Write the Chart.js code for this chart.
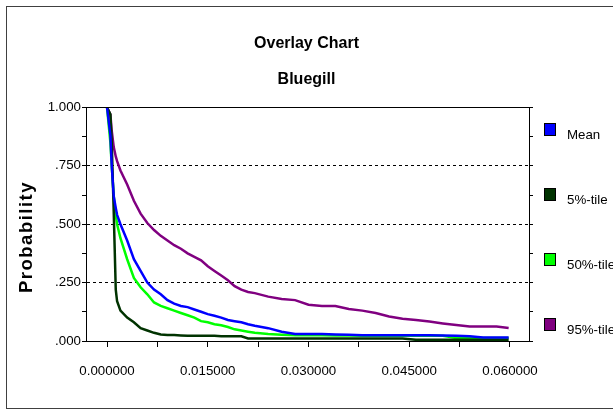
<!DOCTYPE html>
<html>
<head>
<meta charset="utf-8">
<script src="https://cdn.jsdelivr.net/npm/chart.js@4.4.1/dist/chart.umd.min.js"></script>
<style>
  html, body { margin: 0; padding: 0; background: #fff; }
  #wrap { width: 613px; height: 415px; }
</style>
</head>
<body>
<div id="wrap"><canvas id="overlay-chart" width="613" height="415"></canvas></div>
<script>
// x positions of the sampled points (shared by all curves)
const xValues = [0, 0.0005, 0.0007, 0.001, 0.0013, 0.0015, 0.002, 0.003, 0.004, 0.005,
    0.006, 0.007, 0.008, 0.009, 0.010, 0.011, 0.012, 0.013, 0.014, 0.015,
    0.016, 0.017, 0.018, 0.019, 0.020, 0.021, 0.022, 0.024, 0.026, 0.028,
    0.030, 0.032, 0.034, 0.036, 0.038, 0.040, 0.042, 0.044, 0.046, 0.048,
    0.050, 0.052, 0.054, 0.056, 0.058, 0.0598];

const meanValues = [1.0, 0.88, 0.75, 0.62, 0.57, 0.54, 0.50, 0.43, 0.35, 0.30,
    0.25, 0.22, 0.20, 0.175, 0.16, 0.15, 0.145, 0.135, 0.125, 0.115,
    0.108, 0.10, 0.09, 0.085, 0.08, 0.072, 0.065, 0.055, 0.04, 0.03,
    0.03, 0.03, 0.028, 0.027, 0.025, 0.025, 0.025, 0.025, 0.025, 0.025,
    0.024, 0.022, 0.02, 0.015, 0.015, 0.015];

const p5Values = [1.0, 0.97, 0.85, 0.55, 0.22, 0.17, 0.13, 0.10, 0.08, 0.055,
    0.045, 0.035, 0.028, 0.026, 0.026, 0.024, 0.022, 0.022, 0.022, 0.022,
    0.022, 0.02, 0.02, 0.02, 0.02, 0.011, 0.011, 0.011, 0.011, 0.011,
    0.011, 0.011, 0.011, 0.011, 0.011, 0.011, 0.011, 0.011, 0.005, 0.005,
    0.005, 0.005, 0.005, 0.005, 0.005, 0.005];

const p50Values = [1.0, 0.85, 0.75, 0.62, 0.54, 0.50, 0.44, 0.35, 0.27, 0.23,
    0.20, 0.165, 0.15, 0.14, 0.13, 0.12, 0.11, 0.10, 0.085, 0.08,
    0.072, 0.067, 0.06, 0.05, 0.045, 0.04, 0.035, 0.03, 0.027, 0.025,
    0.025, 0.025, 0.024, 0.024, 0.023, 0.023, 0.023, 0.022, 0.022, 0.022,
    0.022, 0.013, 0.013, 0.013, 0.013, 0.013];

const p95Values = [1.0, 0.97, 0.90, 0.83, 0.79, 0.77, 0.73, 0.67, 0.60, 0.545,
    0.505, 0.475, 0.45, 0.43, 0.41, 0.395, 0.375, 0.36, 0.345, 0.32,
    0.30, 0.28, 0.26, 0.235, 0.22, 0.21, 0.205, 0.19, 0.18, 0.175,
    0.155, 0.15, 0.15, 0.137, 0.13, 0.12, 0.105, 0.095, 0.09, 0.083,
    0.075, 0.068, 0.062, 0.062, 0.062, 0.056];

const seriesLabels = ['Mean', '5%-tile', '50%-tile', '95%-tile'];
const seriesColors = ['#0000ff', '#003300', '#00ff00', '#800080'];
const xTickLabels = ['0.000000', '0.015000', '0.030000', '0.045000', '0.060000'];
const yTickLabels = ['.000', '.250', '.500', '.750', '1.000'];

const FONT = '"Liberation Sans", Arial, sans-serif';

function toPoints(ys) {
    return ys.map((y, i) => ({ x: xValues[i], y: y }));
}

// find label for a tick value, blank for the minor ticks
function labelFor(value, step, labels) {
    const idx = Math.round(value / step);
    if (Math.abs(idx * step - value) > 1e-9) return '';
    return labels[idx] !== undefined ? labels[idx] : '';
}

// frame, top edge of plot, rotated axis title and the legend on the right
const decorPlugin = {
    id: 'decor',
    afterDraw(chart) {
        const ctx = chart.ctx;
        const area = chart.chartArea;
        ctx.save();

        ctx.strokeStyle = '#404040';
        ctx.lineWidth = 1;
        ctx.strokeRect(6.5, 6.5, 700, 402);

        ctx.strokeStyle = '#000';
        ctx.beginPath();
        ctx.moveTo(area.left, Math.round(area.top) + 0.5);
        ctx.lineTo(area.right, Math.round(area.top) + 0.5);
        ctx.stroke();

        // y axis title
        ctx.save();
        ctx.translate(27, 237);
        ctx.rotate(-Math.PI / 2);
        ctx.font = 'bold 18.5px ' + FONT;
        ctx.letterSpacing = '1.5px';
        ctx.fillStyle = '#000';
        ctx.textAlign = 'center';
        ctx.textBaseline = 'middle';
        ctx.fillText('Probability', 0, 0);
        ctx.restore();

        // legend
        ctx.font = '13.3px ' + FONT;
        ctx.textAlign = 'left';
        ctx.textBaseline = 'middle';
        chart.data.datasets.forEach((ds, i) => {
            const cy = 130 + i * 65;
            ctx.fillStyle = ds.borderColor;
            ctx.fillRect(544, cy - 7, 12, 13);
            ctx.strokeStyle = '#000';
            ctx.strokeRect(544.5, cy - 6.5, 11, 12);
            ctx.fillStyle = '#000';
            ctx.fillText(ds.label, 567, cy + 5);
        });
        ctx.restore();
    }
};

new Chart(document.getElementById('overlay-chart'), {
    type: 'line',
    data: {
        datasets: [meanValues, p5Values, p50Values, p95Values].map((vals, i) => ({
            label: seriesLabels[i],
            data: toPoints(vals),
            borderColor: seriesColors[i],
            backgroundColor: seriesColors[i],
            borderWidth: 2.5,
            pointRadius: 0,
            tension: 0,
            fill: false
        }))
    },
    options: {
        responsive: false,
        animation: false,
        layout: { padding: 0 },
        plugins: {
            legend: { display: false },
            tooltip: { enabled: false },
            title: {
                display: true,
                text: 'Overlay Chart',
                color: '#000',
                font: { family: FONT, size: 16, weight: 'bold', lineHeight: 1.2 },
                padding: { top: 34, bottom: 17 }
            },
            subtitle: {
                display: true,
                text: 'Bluegill',
                color: '#000',
                font: { family: FONT, size: 16, weight: 'bold', lineHeight: 1.2 },
                padding: { top: 0, bottom: 18 }
            }
        },
        scales: {
            x: {
                type: 'linear',
                position: 'bottom',
                min: -0.00313,
                max: 0.06283,
                afterFit(scale) { scale.height = 74; },
                border: { display: true, color: '#000', width: 1 },
                grid: { drawOnChartArea: false, tickLength: 6, color: '#000' },
                ticks: {
                    stepSize: 0.0075,
                    includeBounds: false,
                    autoSkip: false,
                    maxRotation: 0,
                    padding: 16,
                    color: '#000',
                    font: { family: FONT, size: 13.3 },
                    callback: (v) => labelFor(v, 0.015, xTickLabels)
                }
            },
            y: {
                type: 'linear',
                position: 'left',
                min: 0,
                max: 1,
                afterFit(scale) { scale.width = 86; },
                border: { display: true, color: '#000', width: 1, dash: [3, 3] },
                grid: {
                    drawOnChartArea: true,
                    tickLength: 4,
                    tickColor: '#000',
                    color: (c) => {
                        const v = c.tick ? c.tick.value : 0;
                        return (v === 0.25 || v === 0.5 || v === 0.75) ? '#000' : 'rgba(0,0,0,0)';
                    }
                },
                ticks: {
                    stepSize: 0.125,
                    autoSkip: false,
                    padding: 1,
                    color: '#000',
                    font: { family: FONT, size: 13.3 },
                    callback: (v) => labelFor(v, 0.25, yTickLabels)
                }
            },
            y2: {
                type: 'linear',
                position: 'right',
                min: 0,
                max: 1,
                afterFit(scale) { scale.width = 84; },
                border: { display: true, color: '#000', width: 1 },
                grid: { drawOnChartArea: false, tickLength: 4, color: '#000' },
                ticks: { stepSize: 0.125, display: false }
            }
        }
    },
    plugins: [decorPlugin]
});
</script>
</body>
</html>
